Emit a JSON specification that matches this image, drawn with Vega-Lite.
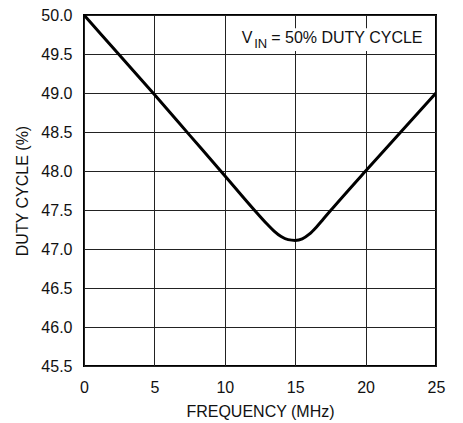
{
  "$schema": "https://vega.github.io/schema/vega-lite/v6.json",
  "autosize": {"type": "none"},
  "padding": {"left": 84, "top": 15, "right": 27, "bottom": 57},
  "width": 352,
  "height": 351,
  "background": "white",
  "config": {
    "view": {"stroke": "black", "strokeWidth": 2},
    "font": "Liberation Sans",
    "axis": {
      "labelFont": "Liberation Sans",
      "titleFont": "Liberation Sans",
      "labelFontSize": 16,
      "titleFontSize": 16,
      "titleFontWeight": "normal",
      "labelColor": "#111",
      "titleColor": "#111",
      "ticks": false,
      "tickSize": 0,
      "domain": false,
      "grid": true,
      "gridColor": "#222",
      "gridWidth": 1,
      "gridOpacity": 1,
      "labelOverlap": false,
      "labelBound": false,
      "labelFlush": false
    }
  },
  "datasets": {
    "curve": [
      {"f": 0, "dc": 50.0},
      {"f": 2.5, "dc": 49.49},
      {"f": 5, "dc": 48.98},
      {"f": 7.5, "dc": 48.46},
      {"f": 10, "dc": 47.94},
      {"f": 12, "dc": 47.52},
      {"f": 13, "dc": 47.32},
      {"f": 13.5, "dc": 47.23},
      {"f": 14, "dc": 47.16},
      {"f": 14.5, "dc": 47.12},
      {"f": 15, "dc": 47.11},
      {"f": 15.5, "dc": 47.13},
      {"f": 16, "dc": 47.19},
      {"f": 16.5, "dc": 47.28},
      {"f": 17, "dc": 47.385},
      {"f": 17.5, "dc": 47.49},
      {"f": 20, "dc": 48.0},
      {"f": 22.5, "dc": 48.5},
      {"f": 25, "dc": 49.0}
    ],
    "box": [
      {"x1": 10.8, "x2": 24.7, "y1": 49.54, "y2": 49.83}
    ],
    "note": [
      {"x": 11.2, "y": 49.637}
    ]
  },
  "layer": [
    {
      "data": {"name": "box"},
      "mark": {"type": "rect", "fill": "white", "stroke": null},
      "encoding": {
        "x": {"field": "x1", "type": "quantitative",
              "scale": {"domain": [0, 25], "nice": false, "zero": false},
              "axis": {"values": [0, 5, 10, 15, 20, 25], "tickCount": 10, "title": "FREQUENCY (MHz)", "labelPadding": 13, "titlePadding": 8}},
        "x2": {"field": "x2"},
        "y": {"field": "y1", "type": "quantitative",
              "scale": {"domain": [45.5, 50], "nice": false, "zero": false},
              "axis": {"values": [45.5, 46, 46.5, 47, 47.5, 48, 48.5, 49, 49.5, 50], "tickCount": 20, "format": ".1f", "title": "DUTY CYCLE (%)", "labelPadding": 12, "titlePadding": 10}},
        "y2": {"field": "y2"}
      }
    },
    {
      "data": {"name": "curve"},
      "mark": {"type": "line", "color": "black", "strokeWidth": 3, "interpolate": "monotone", "clip": true},
      "encoding": {
        "x": {"field": "f", "type": "quantitative"},
        "y": {"field": "dc", "type": "quantitative"}
      }
    },
    {
      "data": {"name": "note"},
      "mark": {"type": "text", "text": "V", "align": "left", "baseline": "alphabetic", "fontSize": 16, "font": "Liberation Sans", "color": "#111"},
      "encoding": {
        "x": {"field": "x", "type": "quantitative"},
        "y": {"field": "y", "type": "quantitative"}
      }
    },
    {
      "data": {"name": "note"},
      "mark": {"type": "text", "text": "IN", "align": "left", "baseline": "alphabetic", "fontSize": 13, "font": "Liberation Sans", "color": "#111", "dx": 12.5, "dy": 4.5},
      "encoding": {
        "x": {"field": "x", "type": "quantitative"},
        "y": {"field": "y", "type": "quantitative"}
      }
    },
    {
      "data": {"name": "note"},
      "mark": {"type": "text", "text": "= 50% DUTY CYCLE", "align": "left", "baseline": "alphabetic", "fontSize": 16, "font": "Liberation Sans", "color": "#111", "dx": 29.5},
      "encoding": {
        "x": {"field": "x", "type": "quantitative"},
        "y": {"field": "y", "type": "quantitative"}
      }
    }
  ]
}
